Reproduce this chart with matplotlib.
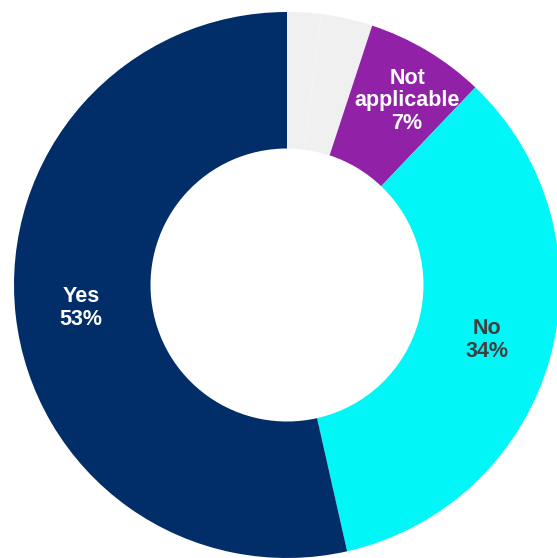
import math
import matplotlib.pyplot as plt

plt.rcParams["font.family"] = ["Liberation Sans", "DejaVu Sans"]

# Slices, clockwise from 12 o'clock
categories = ["", "", "Not\napplicable", "No", "Yes"]
shares = [2, 3, 7, 34, 53]
colors = ["#f0f0f0", "#f0f0f0", "#9122a8", "#00f6f7", "#012e69"]
text_colors = ["white", "white", "white", "#404040", "white"]

W, H = 557, 558
cx, cy, r = 287, 285, 273

fig = plt.figure(figsize=(W / 100, H / 100), dpi=100)
ax = fig.add_axes([(cx - r) / W, (H - cy - r) / H, 2 * r / W, 2 * r / H])

wedges, _ = ax.pie(shares, colors=colors, startangle=90, counterclock=False,
                   radius=1, wedgeprops=dict(width=0.5, edgecolor="none"))
# faint divider between the two grey slices
for w in wedges[:2]:
    w.set_edgecolor("#f5f5f5")
    w.set_linewidth(0.4)

total = sum(shares)
start = 90.0
for name, val, col in zip(categories, shares, text_colors):
    ang = start - 360.0 * val / total / 2
    start -= 360.0 * val / total
    if not name:
        continue
    rr = 0.76
    x, y = rr * math.cos(math.radians(ang)), rr * math.sin(math.radians(ang))
    if name.startswith("Not"):
        x, y = 0.44, 0.675
    ax.text(x, y, f"{name}\n{val}%", ha="center", va="center", color=col,
            fontsize=15.5, fontweight="bold", linespacing=1.1)

ax.set_xlim(-1, 1)
ax.set_ylim(-1, 1)
ax.set_aspect("auto")
ax.axis("off")

fig.savefig("out.png", dpi=100)
